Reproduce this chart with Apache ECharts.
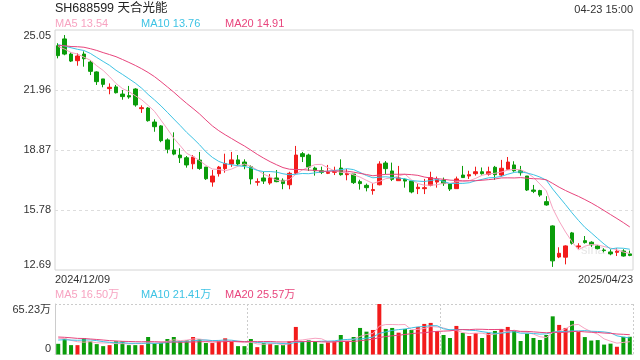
<!DOCTYPE html>
<html><head><meta charset="utf-8">
<script src="https://cdn.jsdelivr.net/npm/echarts@6/dist/echarts.min.js"></script>
<style>html,body{margin:0;padding:0;background:#fff}#c{width:640px;height:360px}</style>
</head><body><div id="c"></div>
<script>
const dates = [
'2024/12/09','2024/12/10','2024/12/11','2024/12/12','2024/12/13','2024/12/16','2024/12/17','2024/12/18','2024/12/19','2024/12/20',
'2024/12/23','2024/12/24','2024/12/25','2024/12/26','2024/12/27','2024/12/30','2024/12/31','2025/01/02','2025/01/03','2025/01/06',
'2025/01/07','2025/01/08','2025/01/09','2025/01/10','2025/01/13','2025/01/14','2025/01/15','2025/01/16','2025/01/17','2025/01/20',
'2025/01/21','2025/01/22','2025/01/23','2025/01/24','2025/01/27','2025/02/05','2025/02/06','2025/02/07','2025/02/10','2025/02/11',
'2025/02/12','2025/02/13','2025/02/14','2025/02/17','2025/02/18','2025/02/19','2025/02/20','2025/02/21','2025/02/24','2025/02/25',
'2025/02/26','2025/02/27','2025/02/28','2025/03/03','2025/03/04','2025/03/05','2025/03/06','2025/03/07','2025/03/10','2025/03/11',
'2025/03/12','2025/03/13','2025/03/14','2025/03/17','2025/03/18','2025/03/19','2025/03/20','2025/03/21','2025/03/24','2025/03/25',
'2025/03/26','2025/03/27','2025/03/28','2025/03/31','2025/04/01','2025/04/02','2025/04/03','2025/04/07','2025/04/08','2025/04/09',
'2025/04/10','2025/04/11','2025/04/14','2025/04/15','2025/04/16','2025/04/17','2025/04/18','2025/04/21','2025/04/22','2025/04/23'];

const opens = [24.24,24.59,23.81,23.47,23.81,23.40,22.89,22.53,22.03,22.12,
21.75,21.67,22.01,21.00,21.03,20.31,20.11,19.39,18.87,18.61,
18.47,18.16,18.35,17.99,17.22,17.65,17.91,18.15,18.36,18.25,
18.01,17.21,17.43,17.17,17.43,17.31,17.08,17.67,18.68,18.61,
17.94,17.80,17.67,17.72,17.94,17.60,17.63,17.24,17.05,16.78,
17.08,18.20,17.79,17.29,17.36,17.27,16.88,16.88,17.05,17.22,
17.31,17.14,16.88,17.58,17.53,17.65,17.75,17.62,17.98,17.58,
17.88,18.10,17.80,17.53,16.81,16.78,16.21,14.96,13.36,13.35,
14.60,13.88,14.20,14.12,13.93,13.72,13.62,13.60,13.67,13.52];

const closes = [23.73,23.81,23.45,23.71,23.57,22.92,22.39,22.25,22.10,21.82,
21.62,21.60,21.19,21.05,20.38,20.07,19.35,18.91,18.66,18.47,
18.10,18.51,17.92,17.39,17.53,17.99,18.17,18.36,18.15,18.08,
17.38,17.24,17.27,17.43,17.24,17.14,17.67,18.61,18.53,17.99,
17.80,17.72,17.72,17.77,17.60,17.67,17.19,17.14,16.93,16.83,
18.15,17.91,17.36,17.43,17.27,16.71,16.95,16.93,17.45,17.36,
17.14,16.86,17.38,17.45,17.60,17.75,17.65,17.75,17.60,17.93,
18.25,17.80,17.70,16.81,16.74,16.55,16.04,13.16,13.55,13.93,
14.07,13.93,14.10,13.99,13.79,13.69,13.52,13.66,13.41,13.44];

const lows = [23.59,23.75,23.40,23.21,23.16,22.73,22.22,22.10,21.74,21.78,
21.46,21.51,21.10,20.78,20.33,19.81,19.27,18.70,18.60,18.20,
17.96,17.88,17.85,17.33,16.98,17.50,17.70,18.00,18.06,17.88,
17.10,17.03,17.12,17.08,17.21,16.85,16.85,17.60,18.25,17.79,
17.55,17.63,17.63,17.58,17.55,17.31,17.12,16.83,16.74,16.57,
17.05,17.62,17.27,17.29,16.93,16.64,16.60,16.60,17.00,16.93,
17.02,16.76,16.88,17.43,17.38,17.55,17.60,17.55,17.33,17.50,
17.85,17.75,17.55,16.76,16.65,16.46,16.00,12.85,13.30,12.98,
14.00,13.78,14.05,13.88,13.75,13.60,13.45,13.41,13.38,13.40];

const highs = [24.37,24.79,23.90,23.85,23.95,23.50,22.92,22.53,22.30,22.22,
21.96,22.17,22.05,21.17,21.08,20.45,20.15,19.47,19.78,18.96,
18.56,18.61,18.77,17.99,17.84,18.05,18.68,18.77,18.61,18.39,
18.08,17.41,17.75,17.63,17.84,17.41,17.75,19.08,18.77,18.68,
18.01,18.01,18.10,18.01,18.39,17.89,17.63,17.34,17.14,17.16,
18.29,18.30,18.22,18.05,17.41,17.27,17.14,17.38,17.75,17.50,
17.45,17.14,17.50,18.05,17.80,18.01,17.97,18.01,18.05,18.36,
18.51,18.29,18.05,17.53,17.07,16.82,16.49,14.99,13.86,13.96,
14.65,14.07,14.44,14.17,13.98,13.81,13.76,13.81,13.76,13.69];

// 成交量 (万)
const volumes = [13.8,20.4,12.1,12.1,21.3,17.0,13.4,10.8,12.1,17.0,
17.0,12.1,12.1,12.1,22.6,14.8,15.0,20.0,22.6,17.0,
18.3,22.6,19.6,14.8,14.8,17.0,20.9,17.0,10.8,10.8,
20.0,9.5,14.8,13.8,12.1,12.1,17.0,35.6,17.0,18.3,
17.0,13.8,15.6,17.4,25.2,17.4,22.6,34.3,29.5,31.7,
65.23,33.0,34.3,28.2,33.0,31.7,35.6,39.5,40.8,30.4,
25.2,21.3,36.9,27.8,23.9,27.8,21.3,27.8,30.4,33.0,
35.6,30.4,17.4,26.9,21.3,18.7,25.2,49.3,38.2,34.3,
43.5,29.0,22.5,18.0,18.6,12.8,14.0,10.0,22.8,22.9];

// estimated values before the visible window (only used so the MA lines start at the left edge)
const priorCloses = [24.0,24.3,23.9,24.1,24.4,24.2,24.5,24.1,24.0,24.5,24.6,24.3,24.5,24.2,24.4,24.5,24.3,24.1,24.37];
const priorVolumes = [28,25,27,24,30,26,25,27,26,27,16,17,15,18,16,22,24,21,24];

const priceTicks = [12.69, 15.78, 18.87, 21.96, 25.05];
const volumeMax = 65.23;
const stockTitle = 'SH688599 天合光能';
const timeText = '04-23 15:00';

const RED = '#f21b1b', GREEN = '#0a9c0a';
const C5 = '#f7a3c1', C10 = '#3ec3e4', C20 = '#e8457d';
const FONT = 'Arial, "Liberation Sans", "Noto Sans CJK SC", sans-serif';

function movingAvg(hist, vals, n) {
  const all = hist.concat(vals), off = hist.length;
  return vals.map((_, i) => {
    const j = i + off;
    if (j + 1 < n) return '-';
    let s = 0; for (let k = j - n + 1; k <= j; k++) s += all[k];
    return s / n;
  });
}
const ma5 = movingAvg(priorCloses, closes, 5);
const ma10 = movingAvg(priorCloses, closes, 10);
const ma20 = movingAvg(priorCloses, closes, 20);
const vma5 = movingAvg(priorVolumes, volumes, 5);
const vma10 = movingAvg(priorVolumes, volumes, 10);
const vma20 = movingAvg(priorVolumes, volumes, 20);
const last = a => a[a.length - 1];

const chart = echarts.init(document.getElementById('c'));
const txt = (text, left, top, color, size) => ({
  text, left, top, padding: 0,
  textStyle: { fontSize: size || 11, fontWeight: 'normal', color, fontFamily: FONT }
});
const lineS = (name, data, color, xi, yi) => ({
  name, type: 'line', data, xAxisIndex: xi, yAxisIndex: yi, showSymbol: false, symbol: 'none',
  lineStyle: { width: 1, color }, itemStyle: { color }, silent: true, z: 3
});

chart.setOption({
  animation: false,
  backgroundColor: '#fff',
  textStyle: { fontFamily: FONT },
  title: [
    txt(stockTitle, 55, 2, '#222', 12.5),
    { text: timeText, right: 7, top: 4, padding: 0, textStyle: { fontSize: 11, fontWeight: 'normal', color: '#333', fontFamily: FONT } },
    txt('MA5 ' + last(ma5).toFixed(2), 55, 18, C5),
    txt('MA10 ' + last(ma10).toFixed(2), 141, 18, C10),
    txt('MA20 ' + last(ma20).toFixed(2), 225, 18, C20),
    txt('MA5 ' + last(vma5).toFixed(2) + '万', 55, 289, C5),
    txt('MA10 ' + last(vma10).toFixed(2) + '万', 141, 289, C10),
    txt('MA20 ' + last(vma20).toFixed(2) + '万', 225, 289, C20)
  ],
  graphic: [{ type: 'text', left: 581, top: 244, z: -1, silent: true,
    style: { text: 'sina', fill: '#e6e6e6', font: '13px ' + FONT } }],
  grid: [
    { left: 55, top: 30, width: 578, height: 240, show: true, borderColor: '#d4d4d4', borderWidth: 1 },
    { left: 55, top: 304, width: 578, height: 50.5 }
  ],
  xAxis: [
    { type: 'category', gridIndex: 0, data: dates, boundaryGap: true,
      axisLine: { show: false }, axisTick: { show: false }, axisLabel: { show: false }, splitLine: { show: false } },
    { type: 'category', gridIndex: 0, data: dates, boundaryGap: false, position: 'bottom',
      axisLine: { show: false }, axisTick: { show: false }, splitLine: { show: false },
      axisLabel: { interval: (i) => i === 0 || i === dates.length - 1, margin: 4, fontSize: 11, color: '#333',
        alignMinLabel: 'left', alignMaxLabel: 'right', hideOverlap: false } },
    { type: 'category', gridIndex: 1, data: dates, boundaryGap: true,
      axisLine: { show: true, lineStyle: { color: '#ddd', type: [2, 2] } }, axisTick: { show: false },
      axisLabel: { show: false }, splitLine: { show: false } },
    { type: 'value', gridIndex: 1, min: 0, max: 3, interval: 1,
      axisLine: { show: false }, axisTick: { show: false }, axisLabel: { show: false },
      splitLine: { show: true, lineStyle: { color: '#ccc', type: [2, 2], width: 1 } } }
  ],
  yAxis: [
    { type: 'value', gridIndex: 0, min: priceTicks[0], max: priceTicks[priceTicks.length - 1],
      interval: priceTicks[1] - priceTicks[0],
      axisLine: { show: false }, axisTick: { show: false },
      axisLabel: { formatter: v => v.toFixed(2), margin: 4, fontSize: 11, color: '#333',
        verticalAlignMinLabel: 'bottom', verticalAlignMaxLabel: 'top' },
      splitLine: { show: true, showMinLine: false, showMaxLine: false, lineStyle: { color: '#ddd', type: [3, 3], width: 1 } } },
    { type: 'value', gridIndex: 1, min: 0, max: volumeMax, interval: volumeMax,
      axisLine: { show: true, lineStyle: { color: '#ccc' } }, axisTick: { show: false },
      axisLabel: { formatter: v => v === 0 ? '0' : v.toFixed(2) + '万', margin: 4, fontSize: 11, color: '#333',
        verticalAlignMinLabel: 'bottom', verticalAlignMaxLabel: 'top' },
      splitLine: { show: true, showMinLine: false, lineStyle: { color: '#ccc', type: [2, 2], width: 1 } } }
  ],
  series: [
    { type: 'candlestick', xAxisIndex: 0, yAxisIndex: 0, barWidth: 4,
      data: dates.map((d, i) => [opens[i], closes[i], lows[i], highs[i]]),
      itemStyle: { color: RED, color0: GREEN, borderColor: RED, borderColor0: GREEN, borderWidth: 1 }, z: 2 },
    lineS('MA5', ma5, C5, 0, 0),
    lineS('MA10', ma10, C10, 0, 0),
    lineS('MA20', ma20, C20, 0, 0),
    { type: 'bar', xAxisIndex: 2, yAxisIndex: 1, barWidth: 4,
      data: volumes.map((v, i) => ({ value: v, itemStyle: { color: closes[i] >= opens[i] ? RED : GREEN } })), z: 2 },
    lineS('VMA5', vma5, C5, 2, 1),
    lineS('VMA10', vma10, C10, 2, 1),
    lineS('VMA20', vma20, C20, 2, 1)
  ]
});
</script></body></html>
